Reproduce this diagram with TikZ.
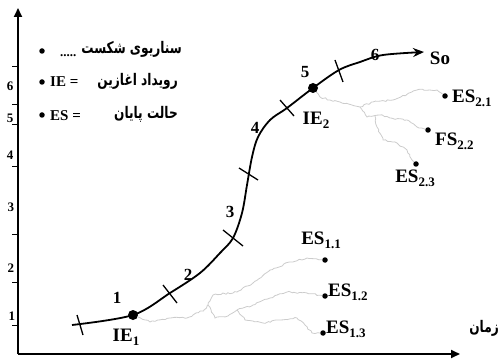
\documentclass[tikz,border=0pt]{standalone}
\usepackage{fontspec}
\setmainfont{Liberation Serif}
\newfontfamily\fa[Script=Arabic]{DejaVu Sans}
\TeXXeTstate=1
\usetikzlibrary{arrows.meta,decorations.pathmorphing}
\newcommand\sbs[1]{\raisebox{-0.45ex}{\fontsize{13}{13}\selectfont #1}}
\newcommand\narrowfa[1]{\scalebox{0.76}[1]{#1}}
\begin{document}
\begin{tikzpicture}[x=1pt,y=-1pt,
  lbl/.style={font=\fontsize{19}{19}\selectfont\bfseries, inner sep=0},
  num/.style={font=\fontsize{17}{17}\selectfont\bfseries, inner sep=0},
  axnum/.style={font=\fontsize{13}{13}\selectfont\bfseries, inner sep=0},
  fatext/.style={font=\fontsize{16}{16}\selectfont\fa\bfseries, inner sep=0},
  esdot/.style={circle, fill=black, inner sep=0, minimum size=5.5pt},
  iedot/.style={circle, fill=black, inner sep=0, minimum size=10pt},
  wig/.style={gray!40, line width=0.8pt, decorate, decoration={random steps, segment length=2.5pt, amplitude=0.8pt}},
  axis/.style={line width=1.8pt, -{Triangle[length=9pt,width=8pt]}},
  tk/.style={line width=1.3pt}]
\useasboundingbox (0,0) rectangle (500,363);
\pgfmathsetseed{7}
% axes
\coordinate (O) at (18,354);
\coordinate (ytop) at (18,8);
\coordinate (xend) at (460,354);
\draw[axis] (O) -- (ytop);
\draw[axis] (O) -- (xend);
\foreach \yy in {67,105,125,167,235,282,325} \draw[line width=1pt] (12,\yy) -- (18,\yy);
\node[axnum] (a6) at (10,86) {6};
\node[axnum] (a5) at (10,118) {5};
\node[axnum] (a4) at (10,155) {4};
\node[axnum] (a3) at (11,207) {3};
\node[axnum] (a2) at (11,268) {2};
\node[axnum] (a1) at (12,316) {1};
\node[fatext, anchor=east] (xl) at (499,328) {\narrowfa{\beginR زمان\endR}};
% legend
\node[esdot] (b1) at (42,51) {};
\node[esdot] (b2) at (42,82) {};
\node[esdot] (b3) at (42,115) {};
\node[fatext, anchor=east] (t1) at (182,49) {\narrowfa{\beginR سناریوی شکست\endR}};
\node[lbl, anchor=base west, font=\fontsize{13}{13}\selectfont\bfseries] (t1d) at (60,57) {.....};
\node[lbl, anchor=west, font=\fontsize{15}{15}\selectfont\bfseries] (t2a) at (50,82) {IE =};
\node[fatext, anchor=east] (t2) at (178,81) {\narrowfa{\beginR رویداد اغازین\endR}};
\node[lbl, anchor=west, font=\fontsize{15}{15}\selectfont\bfseries] (t3a) at (50,116) {ES =};
\node[fatext, anchor=east] (t3) at (178,114) {\narrowfa{\beginR حالت پایان\endR}};
% main curve
\draw[line width=1.8pt, -{Stealth[length=11pt,width=9pt]}] plot[smooth, tension=0.55] coordinates {(72,325) (133,315) (170,293) (200,273) (220,253) (233,238) (242,213) (247,185) (252,157) (258,137) (270,120) (287,108) (313,88) (339,70) (360,62) (383,55) (424,52)};
% ticks
\draw[tk] (77,315) -- (83,335);
\draw[tk] (163,285) -- (177,303);
\draw[tk] (223,230) -- (243,246);
\draw[tk] (239,168) -- (258,180);
\draw[tk] (280,100) -- (294,116);
\draw[tk] (335,60) -- (343,82);
% nodes on curve
\node[iedot] (ie1) at (133,315) {};
\node[iedot] (ie2) at (313,88) {};
\node[esdot] (es11) at (325,260) {};
\node[esdot] (es12) at (325,296) {};
\node[esdot] (es13) at (323,333) {};
\node[esdot] (es21) at (445,96) {};
\node[esdot] (es22) at (428,130) {};
\node[esdot] (es23) at (416,164) {};
% gray scenario paths
\draw[wig] (ie1) -- (150,322) -- (170,318) -- (187,318) -- (204,310) -- (208,305) -- (213,295) -- (237,292) -- (253,283) -- (270,270) -- (290,262) -- (307,258) -- (es11);
\draw[wig] (208,305) -- (215,318) -- (228,316) -- (237,310) -- (253,305) -- (270,298) -- (287,292) -- (307,293) -- (es12);
\draw[wig] (237,310) -- (245,320) -- (263,323) -- (280,320) -- (297,318) -- (305,325) -- (312,333) -- (es13);
\draw[wig] (ie2) -- (320,97) -- (330,100) -- (340,102) -- (360,107) -- (373,102) -- (393,100) -- (417,90) -- (437,90) -- (es21);
\draw[wig] (360,107) -- (367,117) -- (380,115) -- (390,118) -- (407,120) -- (417,127) -- (es22);
\draw[wig] (375,116) -- (377,127) -- (383,140) -- (397,143) -- (407,150) -- (412,160) -- (es23);
% labels
\node[num] (n1) at (117,298) {1};
\node[num] (n2) at (188,275) {2};
\node[num] (n3) at (230,212) {3};
\node[num] (n4) at (255,128) {4};
\node[num] (n5) at (305,72) {5};
\node[num] (n6) at (375,55) {6};
\node[lbl] (so) at (440,58) {So};
\node[lbl] (lie1) at (126,337) {IE\sbs{1}};
\node[lbl] (lie2) at (316,120) {IE\sbs{2}};
\node[lbl] (les11) at (321,240) {ES\sbs{1.1}};
\node[lbl, anchor=west] (les12) at (328,292) {ES\sbs{1.2}};
\node[lbl, anchor=west] (les13) at (326,329) {ES\sbs{1.3}};
\node[lbl, anchor=west] (les21) at (452,98) {ES\sbs{2.1}};
\node[lbl, anchor=west] (les22) at (435,141) {FS\sbs{2.2}};
\node[lbl] (les23) at (415,178) {ES\sbs{2.3}};
\end{tikzpicture}
\end{document}
